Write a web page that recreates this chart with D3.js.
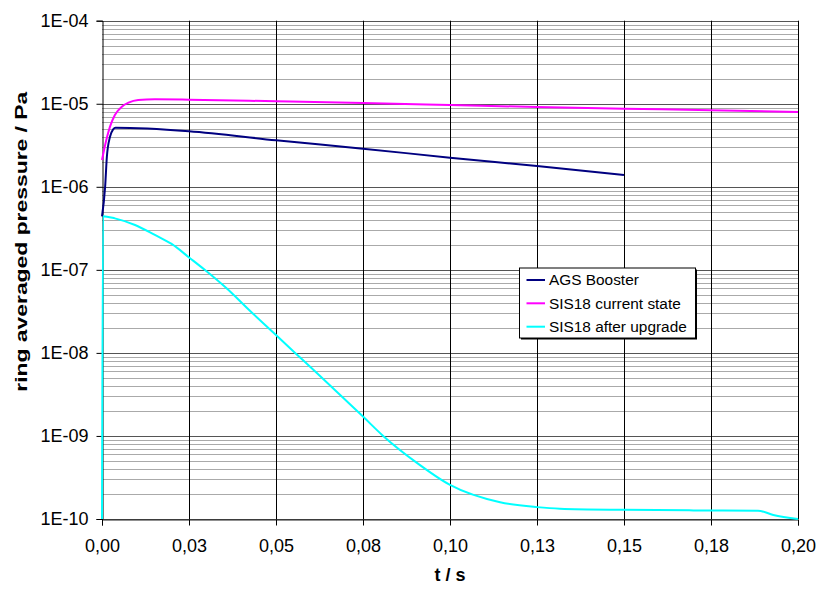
<!DOCTYPE html>
<html>
<head>
<meta charset="utf-8">
<script src="https://cdn.jsdelivr.net/npm/d3@7"></script>
<style>
  html, body { margin: 0; padding: 0; background: #fff; }
  svg { display: block; font-family: "Liberation Sans", Arial, sans-serif; }
</style>
</head>
<body>
<svg id="chart" width="821" height="592"></svg>
<script>
// ---- data ----
const seriesNames = ["AGS Booster", "SIS18 current state", "SIS18 after upgrade"];
const seriesColors = ["#000080", "#ff00ff", "#00ffff"];

const agsT = [0, 0.0009, 0.0014, 0.0023, 0.0032, 0.0039, 0.025, 0.05, 0.075, 0.1, 0.125, 0.15];
const agsP = [4.4e-7, 1.0e-6, 2.3e-6, 4.0e-6, 4.92e-6, 5.15e-6, 4.68e-6, 3.63e-6, 2.88e-6, 2.24e-6, 1.78e-6, 1.39e-6];

const sisT = [0, 0.0009, 0.0023, 0.0037, 0.0057, 0.0076, 0.0104, 0.0152, 0.025, 0.05, 0.075, 0.1, 0.125, 0.15, 0.175, 0.2];
const sisP = [2.1e-6, 3.18e-6, 5.3e-6, 7.33e-6, 9.23e-6, 1.03e-5, 1.11e-5, 1.13e-5, 1.12e-5, 1.07e-5, 1.02e-5, 9.66e-6, 9.14e-6, 8.73e-6, 8.35e-6, 7.96e-6];

const upgT = [0, 0.0003, 0.0037, 0.0095, 0.0152, 0.020, 0.0253, 0.0296, 0.0358, 0.0425, 0.05, 0.0555, 0.0625, 0.075, 0.0808, 0.0904, 0.1, 0.1144, 0.125, 0.1316, 0.15, 0.17, 0.1885, 0.1929, 0.2];
const upgP = [1e-10, 4.43e-7, 4.17e-7, 3.47e-7, 2.63e-7, 2.05e-7, 1.38e-7, 9.95e-8, 6.0e-8, 3.22e-8, 1.64e-8, 1e-8, 5.33e-9, 1.71e-9, 1e-9, 4.77e-10, 2.57e-10, 1.59e-10, 1.39e-10, 1.33e-10, 1.29e-10, 1.27e-10, 1.26e-10, 1.12e-10, 1.0e-10];

const xTickValues = [0, 0.025, 0.05, 0.075, 0.1, 0.125, 0.15, 0.175, 0.2];
const xTickLabels = ["0,00", "0,03", "0,05", "0,08", "0,10", "0,13", "0,15", "0,18", "0,20"];
const yTickValues = [1e-10, 1e-9, 1e-8, 1e-7, 1e-6, 1e-5, 1e-4];
const yTickLabels = ["1E-10", "1E-09", "1E-08", "1E-07", "1E-06", "1E-05", "1E-04"];

const xTitle = "t / s";
const yTitle = "ring averaged pressure / Pa";

// ---- layout ----
const svg = d3.select("#chart");
const L = 102, R = 798, T = 20.7, B = 519;

const x = d3.scaleLinear().domain([0, 0.2]).range([L, R]);
const y = d3.scaleLog().domain([1e-10, 1e-4]).range([B, T]);

// minor gridlines
const minor = [];
for (let e = -10; e < -4; e++) {
  for (let m = 2; m <= 9; m++) minor.push(m * Math.pow(10, e));
}
svg.append("g").selectAll("line").data(minor).join("line")
  .attr("x1", L).attr("x2", R)
  .attr("y1", d => Math.round(y(d)) + 0.5).attr("y2", d => Math.round(y(d)) + 0.5)
  .attr("stroke", "#aaaaaa").attr("stroke-width", 1);

// major gridlines
svg.append("g").selectAll("line").data(yTickValues).join("line")
  .attr("x1", L).attr("x2", R)
  .attr("y1", d => Math.round(y(d)) + 0.5).attr("y2", d => Math.round(y(d)) + 0.5)
  .attr("stroke", "#555").attr("stroke-width", 1);

// vertical gridlines
svg.append("g").selectAll("line").data(xTickValues.slice(1)).join("line")
  .attr("x1", d => Math.round(x(d)) + 0.5).attr("x2", d => Math.round(x(d)) + 0.5)
  .attr("y1", T).attr("y2", B)
  .attr("stroke", "#000").attr("stroke-width", 1);

// axes
const yAxis = d3.axisLeft(y).tickValues(yTickValues)
  .tickFormat((d, i) => yTickLabels[i]).tickSize(6).tickPadding(8);
const gy = svg.append("g").attr("transform", `translate(${L + 0.5},0)`).call(yAxis);
gy.select(".domain").attr("stroke", "#000");
gy.selectAll("text").attr("font-size", 18).attr("fill", "#000")
  .attr("font-family", "'Liberation Sans', Arial, sans-serif");

const xAxis = d3.axisBottom(x).tickValues(xTickValues)
  .tickFormat((d, i) => xTickLabels[i]).tickSize(6).tickPadding(14);
const gx = svg.append("g").attr("transform", `translate(0,${B + 0.5})`).call(xAxis);
gx.select(".domain").attr("stroke", "#222");
gx.selectAll("text").attr("font-size", 18).attr("fill", "#000")
  .attr("font-family", "'Liberation Sans', Arial, sans-serif");

// series
const line = d3.line().x(d => x(d[0])).y(d => y(d[1])).curve(d3.curveMonotoneX);
const series = [
  d3.zip(agsT, agsP),
  d3.zip(sisT, sisP),
  d3.zip(upgT, upgP)
];
svg.append("g").selectAll("path").data(series).join("path")
  .attr("d", d => line(d))
  .attr("fill", "none")
  .attr("stroke", (d, i) => seriesColors[i])
  .attr("stroke-width", 2)
  .attr("stroke-linejoin", "round");

// axis titles
svg.append("text")
  .attr("x", 450).attr("y", 581)
  .attr("text-anchor", "middle")
  .attr("font-size", 18).attr("font-weight", "bold")
  .text(xTitle);

svg.append("text")
  .attr("transform", "translate(26.5,241.7) rotate(-90)")
  .attr("text-anchor", "middle")
  .attr("font-size", 17).attr("font-weight", "bold")
  .attr("textLength", 300).attr("lengthAdjust", "spacingAndGlyphs")
  .text(yTitle);

// legend
const lg = svg.append("g");
const lx = 519, ly = 267.5, lw = 176, lh = 70;
lg.append("rect").attr("x", lx + 2).attr("y", ly + 2).attr("width", lw).attr("height", lh).attr("fill", "#000");
lg.append("rect").attr("x", lx + 0.5).attr("y", ly + 0.5).attr("width", lw).attr("height", lh)
  .attr("fill", "#fff").attr("stroke", "#000").attr("stroke-width", 1);
const rowY = [280, 303.3, 326.7];
seriesNames.forEach((name, i) => {
  lg.append("line").attr("x1", 526.5).attr("x2", 545)
    .attr("y1", rowY[i]).attr("y2", rowY[i])
    .attr("stroke", seriesColors[i]).attr("stroke-width", 2);
  lg.append("text").attr("x", 549).attr("y", rowY[i]).attr("dy", "0.35em")
    .attr("font-size", 15.4).text(name);
});
</script>
</body>
</html>
